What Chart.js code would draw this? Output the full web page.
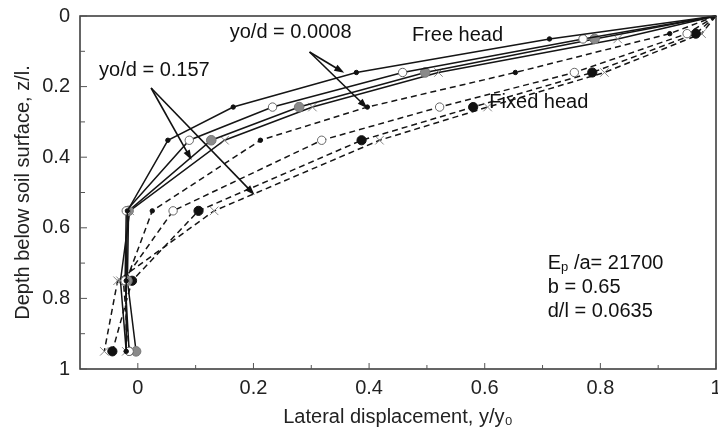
<!DOCTYPE html>
<html>
<head>
<meta charset="utf-8">
<script src="https://cdn.jsdelivr.net/npm/chart.js@4.4.1/dist/chart.umd.min.js"></script>
<style>
  html, body { margin: 0; padding: 0; background: #fff; }
  #wrap { width: 718px; height: 431px; }
</style>
</head>
<body>
<div id="wrap"><canvas id="chart" width="718" height="431"></canvas></div>
<script>
// depth z/l of the measured points
const depthFree = [0, 0.065, 0.16, 0.258, 0.352, 0.552, 0.75, 0.95];
const depthFixed = [0, 0.05, 0.16, 0.258, 0.352, 0.552, 0.75, 0.95];

// lateral displacement y/yo, free head (solid)
const freeDot = [1.0, 0.712, 0.378, 0.165, 0.052, -0.018, -0.02, -0.02];
const freeOpen = [1.0, 0.77, 0.458, 0.233, 0.089, -0.02, -0.022, -0.015];
const freeGray = [1.0, 0.79, 0.497, 0.279, 0.127, -0.016, -0.018, -0.003];
const freeCross = [1.0, 0.83, 0.52, 0.302, 0.15, -0.014, -0.03, -0.02];

// fixed head (dashed)
const fixedDot = [1.0, 0.92, 0.653, 0.397, 0.212, 0.025, -0.02, -0.02];
const fixedOpen = [1.0, 0.95, 0.755, 0.522, 0.318, 0.061, -0.025, -0.015];
const fixedBlack = [1.0, 0.965, 0.786, 0.58, 0.387, 0.105, -0.01, -0.044];
const fixedCross = [1.0, 0.975, 0.807, 0.605, 0.418, 0.132, -0.035, -0.058];

const xTicks = [0, 0.2, 0.4, 0.6, 0.8, 1];
const yTicks = [0, 0.2, 0.4, 0.6, 0.8, 1];

const FONT = 'Liberation Sans, Arial, sans-serif';

function pts(xs, ys) {
    return xs.map((x, i) => ({ x: x, y: ys[i] }));
}

function series(xs, ys, dashed, marker) {
    return Object.assign({
        data: pts(xs, ys),
        borderColor: '#151515',
        borderWidth: 1.5,
        borderDash: dashed ? [6, 4] : [],
        showLine: true,
        fill: false,
        tension: 0,
        clip: false
    }, marker, {
        pointRadius: c => c.dataIndex === 0 ? 0 : marker.pointRadius
    });
}

const mDot = { pointStyle: 'circle', pointRadius: 2.2, pointBackgroundColor: '#111', pointBorderColor: '#111', pointBorderWidth: 1 };
const mOpen = { pointStyle: 'circle', pointRadius: 4.2, pointBackgroundColor: '#fff', pointBorderColor: '#666', pointBorderWidth: 1 };
const mGray = { pointStyle: 'circle', pointRadius: 4.8, pointBackgroundColor: '#8a8a8a', pointBorderColor: '#777', pointBorderWidth: 1 };
const mBlack = { pointStyle: 'circle', pointRadius: 4.6, pointBackgroundColor: '#111', pointBorderColor: '#111', pointBorderWidth: 1 };
const mCross = { pointStyle: 'crossRot', pointRadius: 6, pointBackgroundColor: '#888', pointBorderColor: '#888', pointBorderWidth: 1 };

// box, inward ticks, arrows and text notes
const notes = {
    id: 'notes',
    afterDraw(chart) {
        const ctx = chart.ctx;
        const xs = chart.scales.x, ys = chart.scales.y;
        const a = chart.chartArea;
        const px = v => xs.getPixelForValue(v), py = v => ys.getPixelForValue(v);
        ctx.save();
        ctx.strokeStyle = '#333';
        ctx.lineWidth = 1.5;
        ctx.strokeRect(a.left, a.top, a.right - a.left, a.bottom - a.top);

        ctx.lineWidth = 1;
        ctx.strokeStyle = '#555';
        for (let i = 0; i <= 10; i++) {
            const v = i / 10;
            const len = i % 2 === 0 ? 6 : 4;
            ctx.beginPath();
            ctx.moveTo(px(v), a.bottom);
            ctx.lineTo(px(v), a.bottom - len);
            ctx.moveTo(a.left, py(v));
            ctx.lineTo(a.left + len + 1, py(v));
            ctx.stroke();
        }

        function arrow(x0, y0, x1, y1) {
            const X0 = px(x0), Y0 = py(y0), X1 = px(x1), Y1 = py(y1);
            const ang = Math.atan2(Y1 - Y0, X1 - X0);
            ctx.strokeStyle = '#111';
            ctx.fillStyle = '#111';
            ctx.lineWidth = 1.6;
            ctx.beginPath();
            ctx.moveTo(X0, Y0);
            ctx.lineTo(X1 - 6 * Math.cos(ang), Y1 - 6 * Math.sin(ang));
            ctx.stroke();
            ctx.beginPath();
            ctx.moveTo(X1, Y1);
            ctx.lineTo(X1 - 10 * Math.cos(ang) + 3.5 * Math.sin(ang), Y1 - 10 * Math.sin(ang) - 3.5 * Math.cos(ang));
            ctx.lineTo(X1 - 10 * Math.cos(ang) - 3.5 * Math.sin(ang), Y1 - 10 * Math.sin(ang) + 3.5 * Math.cos(ang));
            ctx.closePath();
            ctx.fill();
        }
        arrow(0.297, 0.102, 0.357, 0.161);
        arrow(0.297, 0.102, 0.397, 0.261);
        arrow(0.023, 0.204, 0.093, 0.408);
        arrow(0.023, 0.204, 0.202, 0.507);

        ctx.fillStyle = '#111';
        ctx.font = '20px ' + FONT;
        ctx.textBaseline = 'middle';
        ctx.textAlign = 'left';
        ctx.fillText('yo/d = 0.0008', px(0.159), py(0.048));
        ctx.fillText('yo/d = 0.157', px(-0.067), py(0.153));
        ctx.fillText('Free head', px(0.474), py(0.054));
        ctx.fillText('Fixed head', px(0.608), py(0.246));

        let x = px(0.709);
        ctx.fillText('E', x, py(0.70));
        x += ctx.measureText('E').width;
        ctx.font = '13px ' + FONT;
        ctx.fillText('p', x, py(0.70) + 4);
        x += ctx.measureText('p').width;
        ctx.font = '20px ' + FONT;
        ctx.fillText(' /a= 21700', x, py(0.70));
        ctx.fillText('b = 0.65', px(0.709), py(0.768));
        ctx.fillText('d/l = 0.0635', px(0.709), py(0.838));
        ctx.restore();
    }
};

new Chart(document.getElementById('chart').getContext('2d'), {
    type: 'scatter',
    data: {
        datasets: [
            series(freeDot, depthFree, false, mDot),
            series(freeOpen, depthFree, false, mOpen),
            series(freeGray, depthFree, false, mGray),
            series(freeCross, depthFree, false, mCross),
            series(fixedDot, depthFixed, true, mDot),
            series(fixedOpen, depthFixed, true, mOpen),
            series(fixedBlack, depthFixed, true, mBlack),
            series(fixedCross, depthFixed, true, mCross)
        ]
    },
    options: {
        responsive: false,
        animation: false,
        layout: { autoPadding: false, padding: { top: 16, right: 2, left: 0, bottom: 0 } },
        plugins: { legend: { display: false }, tooltip: { enabled: false } },
        scales: {
            x: {
                type: 'linear',
                min: -0.1,
                max: 1,
                afterBuildTicks: s => { s.ticks = xTicks.map(v => ({ value: v })); },
                afterFit: s => { s.height = 62; s.paddingLeft = 0; s.paddingRight = 0; },
                grid: { display: false, drawTicks: false },
                border: { display: false },
                ticks: {
                    color: '#222',
                    padding: 7,
                    font: { size: 20, family: FONT },
                    callback: v => String(+v.toFixed(1))
                },
                title: {
                    display: true,
                    text: 'Lateral displacement, y/y₀',
                    color: '#222',
                    font: { size: 20, family: FONT },
                    padding: { top: 0, bottom: 2 }
                }
            },
            y: {
                type: 'linear',
                reverse: true,
                min: 0,
                max: 1,
                afterBuildTicks: s => { s.ticks = yTicks.map(v => ({ value: v })); },
                afterFit: s => { s.width = 80; s.paddingTop = 0; s.paddingBottom = 0; },
                grid: { display: false, drawTicks: false },
                border: { display: false },
                ticks: {
                    color: '#222',
                    padding: 10,
                    font: { size: 20, family: FONT },
                    callback: v => String(+v.toFixed(1))
                },
                title: {
                    display: true,
                    text: 'Depth below soil surface, z/l.',
                    color: '#222',
                    font: { size: 20, family: FONT },
                    padding: { top: 11, bottom: 0 }
                }
            }
        }
    },
    plugins: [notes]
});
</script>
</body>
</html>
